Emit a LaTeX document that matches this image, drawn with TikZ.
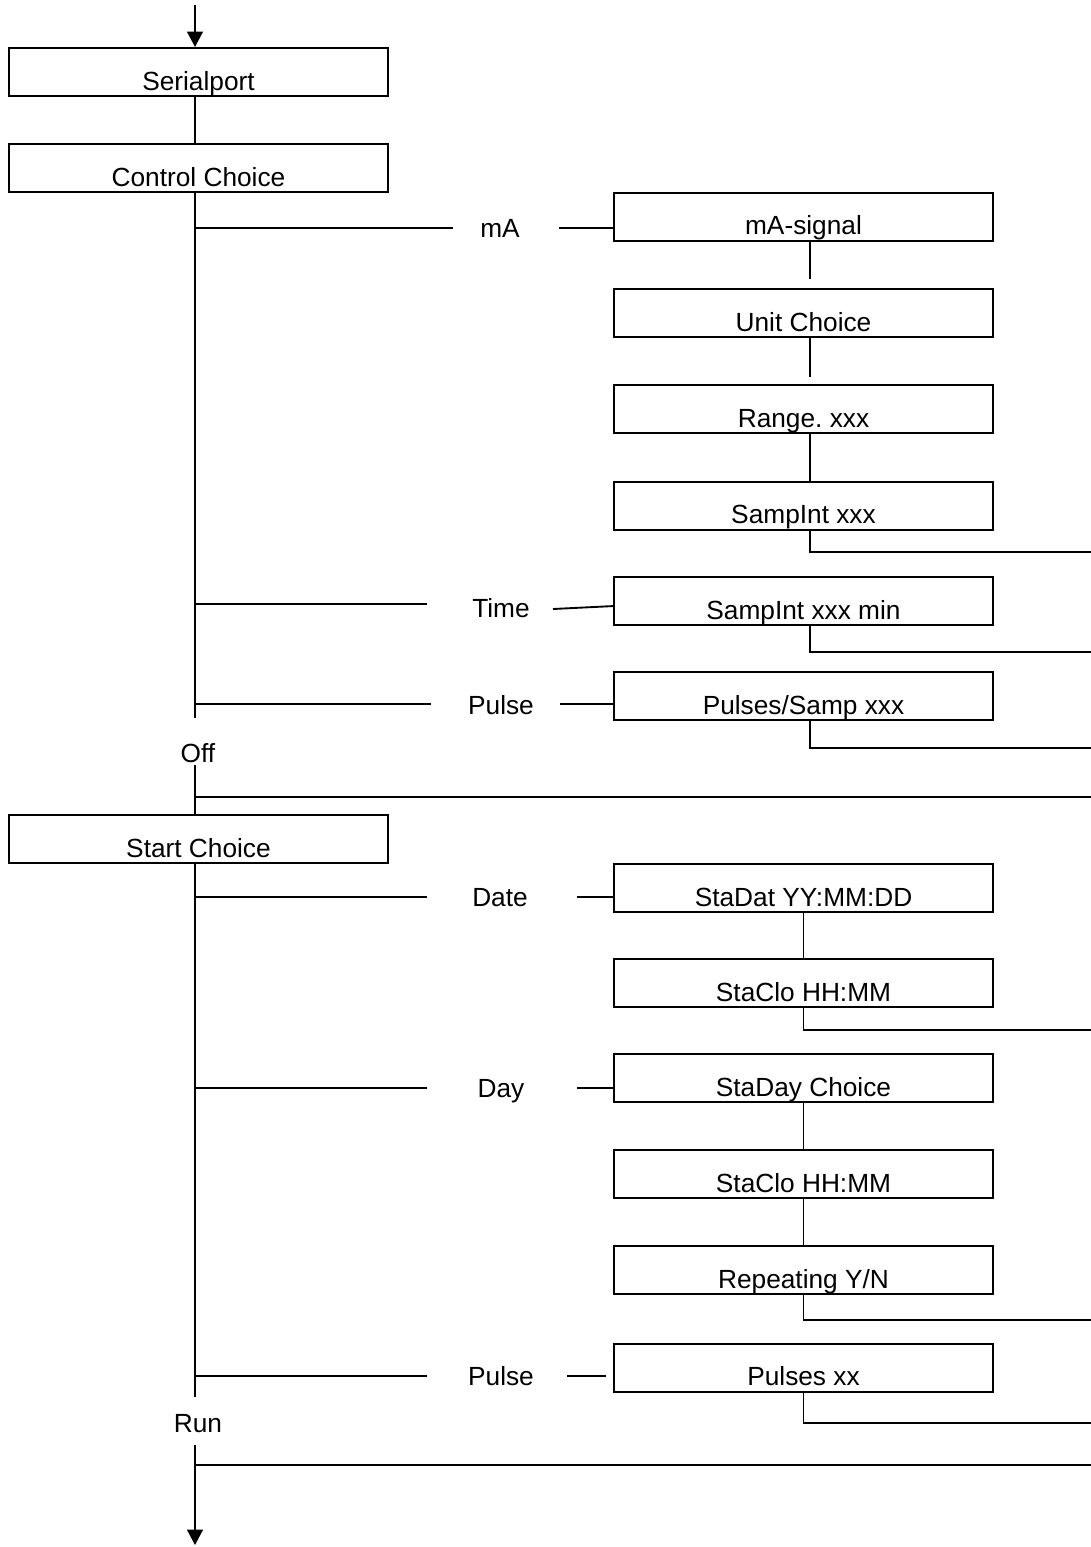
\documentclass[tikz,border=0pt]{standalone}
\usepackage{fontspec}
\setmainfont{Liberation Sans}
\usetikzlibrary{arrows.meta}
\frenchspacing
\begin{document}
\begin{tikzpicture}[x=0.75pt,y=-0.75pt,
  box/.style={draw,line width=1.5pt,rectangle,minimum width=284.25pt,minimum height=36pt,
    inner sep=0pt,text height=31.5pt,text depth=4.5pt,font=\fontsize{19.7}{22}\selectfont},
  lbl/.style={anchor=base,inner sep=0pt,font=\fontsize{19.7}{22}\selectfont},
  conn/.style={line width=1.4pt},
  arr/.style={conn,-{Triangle[width=11.8pt,length=11.5pt]}}]
\useasboundingbox (0,0) rectangle (1091,1547);

% left column boxes
\node[box] (sp) at (198.5,72) {Serialport};
\node[box] (cc) at (198.5,168) {Control Choice};
\node[box] (sc) at (198.5,839) {Start Choice};

% right column boxes
\node[box] (ma)   at (803.5,216.5) {mA-signal};
\node[box] (uc)   at (803.5,313)   {Unit Choice};
\node[box] (rg)   at (803.5,409)   {Range.\ xxx};
\node[box] (si)   at (803.5,505.5) {SampInt xxx};
\node[box] (sim)  at (803.5,601)   {SampInt xxx min};
\node[box] (ps)   at (803.5,696)   {Pulses/Samp xxx};
\node[box] (sd)   at (803.5,888)   {StaDat YY:MM:DD};
\node[box] (scl)  at (803.5,983)   {StaClo HH:MM};
\node[box] (sdc)  at (803.5,1078)  {StaDay Choice};
\node[box] (scl2) at (803.5,1174)  {StaClo HH:MM};
\node[box] (rep)  at (803.5,1270)  {Repeating Y/N};
\node[box] (px)   at (803.5,1367.5){Pulses xx};

% labels
\node[lbl] (lma)  at (500,237) {mA};
\node[lbl] (ltime) at (501,617) {Time};
\node[lbl] (lpul) at (501,714) {Pulse};
\node[lbl] (loff) at (198,762) {Off};
\node[lbl] (ldate) at (500,906) {Date};
\node[lbl] (lday) at (501,1097) {Day};
\node[lbl] (lpul2) at (501,1385) {Pulse};
\node[lbl] (lrun) at (198,1432) {Run};

% coordinates
\coordinate (top) at (195,5);
\coordinate (s1) at (195,718);
\coordinate (s2) at (195,765);
\coordinate (h1) at (195,797);
\coordinate (h1e) at (1091,797);
\coordinate (s3) at (195,1397);
\coordinate (s4) at (195,1445);
\coordinate (h2) at (195,1465);
\coordinate (h2e) at (1091,1465);
\coordinate (bot) at (195,1545);

\coordinate (jma) at (195,228);   \coordinate (ama) at (453,228);   \coordinate (bma) at (559,228);
\coordinate (jti) at (195,604);   \coordinate (ati) at (427,604);   \coordinate (bti) at (553,609);
\coordinate (jpu) at (195,704);   \coordinate (apu) at (431,704);   \coordinate (bpu) at (560,704);
\coordinate (jda) at (195,897);   \coordinate (ada) at (427,897);   \coordinate (bda) at (577,897);
\coordinate (jdy) at (195,1088);  \coordinate (ady) at (427,1088);  \coordinate (bdy) at (577,1088);
\coordinate (jp2) at (195,1376);  \coordinate (ap2) at (427,1376);  \coordinate (bp2) at (567,1376);
\coordinate (cp2) at (606,1376);

\coordinate (e1) at (1091,552);
\coordinate (e2) at (1091,652);
\coordinate (e3) at (1091,748);
\coordinate (e4) at (1091,1030);
\coordinate (e5) at (1091,1320);
\coordinate (e6) at (1091,1423);

% spine
\draw[arr] (top) -- (sp.north -| top);
\draw[conn] (sp.south -| top) -- (cc.north -| top);
\draw[conn] (cc.south -| top) -- (s1);
\draw[conn] (s2) -- (sc.north -| top);
\draw[conn] (h1) -- (h1e);
\draw[conn] (sc.south -| top) -- (s3);
\draw[arr] (s4) -- (bot);
\draw[conn] (h2) -- (h2e);

% branches
\draw[conn] (jma) -- (ama);  \draw[conn] (bma) -- (bma -| ma.west);
\draw[conn] (jti) -- (ati);  \draw[conn] (bti) -- ([yshift=2.2pt]bti -| sim.west);
\draw[conn] (jpu) -- (apu);  \draw[conn] (bpu) -- (bpu -| ps.west);
\draw[conn] (jda) -- (ada);  \draw[conn] (bda) -- (bda -| sd.west);
\draw[conn] (jdy) -- (ady);  \draw[conn] (bdy) -- (bdy -| sdc.west);
\draw[conn] (jp2) -- (ap2);  \draw[conn] (bp2) -- (cp2);

% chains
\draw[conn,shorten >=7pt] ([xshift=4.9pt]ma.south) -- ([xshift=4.9pt]uc.north);
\draw[conn,shorten >=5pt] ([xshift=4.9pt]uc.south) -- ([xshift=4.9pt]rg.north);
\draw[conn] ([xshift=4.9pt]rg.south) -- ([xshift=4.9pt]si.north);
\draw[conn] ([xshift=4.9pt]si.south) |- (e1);
\draw[conn] ([xshift=4.9pt]sim.south) |- (e2);
\draw[conn] ([xshift=4.9pt]ps.south) |- (e3);

\draw[conn] (sd.south) -- (scl.north);
\draw[conn] (scl.south) |- (e4);
\draw[conn] (sdc.south) -- (scl2.north);
\draw[conn] (scl2.south) -- (rep.north);
\draw[conn] (rep.south) |- (e5);
\draw[conn] (px.south) |- (e6);
\end{tikzpicture}
\end{document}
